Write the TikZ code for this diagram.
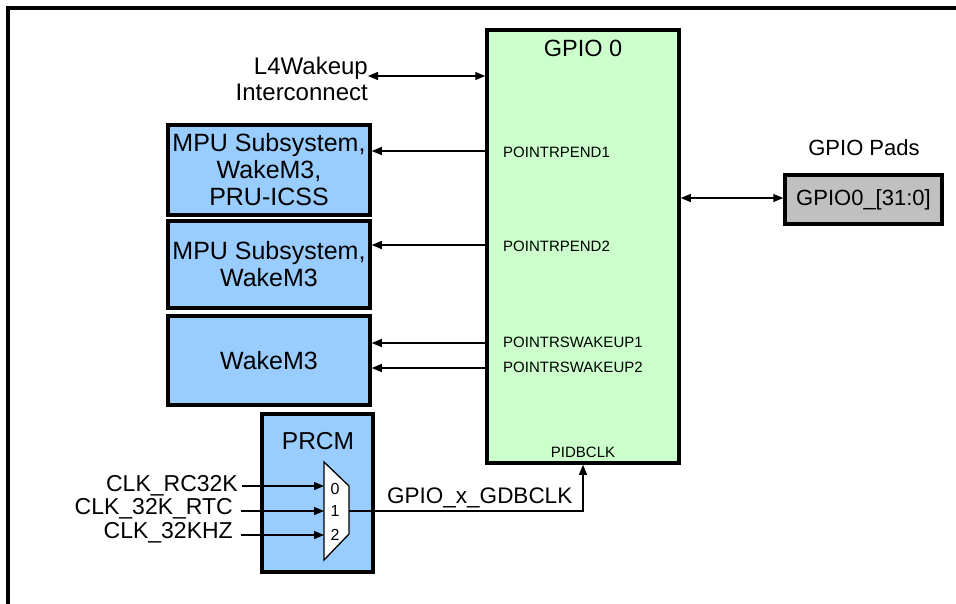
\documentclass[tikz,border=0pt]{standalone}
\usepackage{fontspec}
\setmainfont{Liberation Sans}
\usetikzlibrary{arrows.meta}
\definecolor{blubox}{HTML}{99CCFF}
\definecolor{grnbox}{HTML}{CCFFCC}
\definecolor{gryfill}{HTML}{C0C0C0}
\tikzset{
  blk/.style={draw=black, line width=3.5pt, fill=blubox, align=center, inner sep=0pt,
    font=\fontsize{25}{27}\selectfont},
  arr/.style={line width=1.2pt, -{Triangle[length=10pt,width=8pt]}},
  darr/.style={line width=1.2pt, {Triangle[length=10pt,width=8pt]}-{Triangle[length=10pt,width=8pt]}},
  pinlbl/.style={font=\fontsize{15}{17}\selectfont, inner sep=0pt},
  txt/.style={font=\fontsize{23}{26}\selectfont, inner sep=0pt},
}
\begin{document}
\begin{tikzpicture}[x=1pt,y=-1pt]
\useasboundingbox (0,0) rectangle (956,603);
% outer frame
\draw[line width=4pt] (8,8) rectangle (990,640);
% GPIO 0
\node[draw, line width=3.5pt, fill=grnbox, minimum width=192pt, minimum height=433pt, inner sep=0pt] (gpio) at (583,246.5) {};
\node[txt, font=\fontsize{23.5}{26}\selectfont] (gt) at (583,48) {GPIO 0};
% L4 wakeup
\node[txt, font=\fontsize{24}{26}\selectfont, align=right, anchor=east] (l4) at (368,79) {L4Wakeup\\Interconnect};
\draw[darr] (l4.east |- 0,76) -- (gpio.west |- 0,76);
% blue boxes
\node[blk, minimum width=202pt, minimum height=90pt] (b1) at (269,170) {MPU Subsystem,\\WakeM3,\\PRU-ICSS};
\node[blk, minimum width=202pt, minimum height=87pt] (b2) at (269,264.5) {MPU Subsystem,\\WakeM3};
\node[blk, minimum width=202pt, minimum height=89pt] (b3) at (269,360.5) {WakeM3};
% pin labels
\node[pinlbl, anchor=west] (p1) at (503,152) {POINTRPEND1};
\node[pinlbl, anchor=west] (p2) at (503,246) {POINTRPEND2};
\node[pinlbl, anchor=west] (p3) at (503,342) {POINTRSWAKEUP1};
\node[pinlbl, anchor=west] (p4) at (503,367) {POINTRSWAKEUP2};
\node[pinlbl] (pclk) at (583,452) {PIDBCLK};
\draw[arr] (gpio.west |- 0,151) -- (b1.east |- 0,151);
\draw[arr] (gpio.west |- 0,245) -- (b2.east |- 0,245);
\draw[arr] (gpio.west |- 0,343) -- (b3.east |- 0,343);
\draw[arr] (gpio.west |- 0,368) -- (b3.east |- 0,368);
% GPIO pads
\node[txt, font=\fontsize{22}{24}\selectfont] (padlbl) at (864,148) {GPIO Pads};
\node[draw, line width=3.5pt, fill=gryfill, minimum width=157pt, minimum height=49pt, inner sep=0pt,
  font=\fontsize{22}{24}\selectfont] (pads) at (863.5,199.5) {GPIO0\_[31:0]};
\draw[darr] (gpio.east |- 0,198) -- (pads.west |- 0,198);
% PRCM
\node[blk, minimum width=111pt, minimum height=158pt] (prcm) at (317.5,493) {};
\node[txt, font=\fontsize{24.5}{26}\selectfont] (prcmt) at (318,441) {PRCM};
% mux
\draw[line width=1.3pt, fill=white] (324,462) -- (349,486) -- (349,534) -- (324,560) -- cycle;
\coordinate (m0) at (324,486);
\coordinate (m1) at (324,511);
\coordinate (m2) at (324,535);
\coordinate (mo) at (349,511);
\node[pinlbl, font=\fontsize{16}{18}\selectfont] (n0) at (335,489) {0};
\node[pinlbl, font=\fontsize{16}{18}\selectfont] (n1) at (335,511) {1};
\node[pinlbl, font=\fontsize{16}{18}\selectfont] (n2) at (335,535) {2};
% clock inputs
\node[txt, anchor=east] (c0) at (238,486) {CLK\_RC32K};
\node[txt, anchor=east] (c1) at (233,509) {CLK\_32K\_RTC};
\node[txt, anchor=east] (c2) at (233,533) {CLK\_32KHZ};
\draw[arr] (c0.east) ++(4,0) -- (m0);
\draw[arr] (c1.east |- m1) ++(8,0) -- (m1);
\draw[arr] (c2.east |- m2) ++(8,0) -- (m2);
% output clock
\node[txt, font=\fontsize{22.5}{24}\selectfont, anchor=south west] (gclk) at (387,508) {GPIO\_x\_GDBCLK};
\draw[arr] (mo) -| (gpio.south);
\end{tikzpicture}
\end{document}
